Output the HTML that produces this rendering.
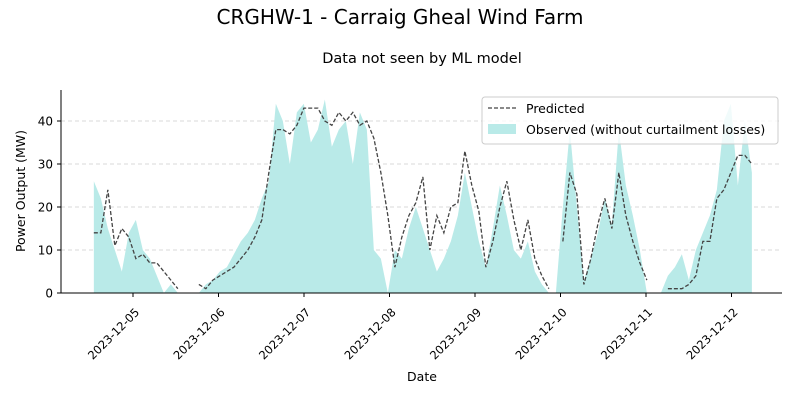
<!DOCTYPE html>
<html><head><meta charset="utf-8"><style>
body{margin:0;background:#fff;}
svg text{font-family:"DejaVu Sans","Liberation Sans",sans-serif;fill:#000;}
</style></head><body>
<svg width="800" height="400" xmlns="http://www.w3.org/2000/svg">
<text x="400" y="24" font-size="20" text-anchor="middle">CRGHW-1 - Carraig Gheal Wind Farm</text>
<text x="422" y="63" font-size="14.5" text-anchor="middle">Data not seen by ML model</text>
<g id="grid"></g>
<g id="obs"></g>
<g id="pred"></g>
<g id="axes"></g>
<text x="0" y="0" font-size="12.5" text-anchor="middle" transform="translate(25,191) rotate(-90)">Power Output (MW)</text>
<text x="422" y="381" font-size="12.5" text-anchor="middle">Date</text>
<g>
<rect x="482" y="97" width="296" height="47" rx="3" fill="#fff" fill-opacity="0.8" stroke="#ccc"/>
<line x1="488" y1="108" x2="516" y2="108" stroke="#444" stroke-width="1.3" stroke-dasharray="4,2"/>
<text x="526" y="113" font-size="12.5">Predicted</text>
<rect x="488" y="124" width="28" height="10" fill="#b9eae8"/>
<text x="526" y="134" font-size="12.5">Observed (without curtailment losses)</text>
</g>
</svg>
<script>
const dateLabels=["2023-12-05","2023-12-06","2023-12-07","2023-12-08","2023-12-09","2023-12-10","2023-12-11","2023-12-12"];
const yTicks=[0,10,20,30,40];
const startDay=-0.458; // days relative to 2023-12-05 00:00
const stepHours=1.965;
const observed=[26,22,15,10,5,14,17,10,8,4,0,2,0,0,0,0,2,3,5,6,9,12,14,17,22,26,44,40,30,42,44,35,38,45,34,38,40,30,42,38,10,8,0,10,8,15,20,15,10,5,8,12,18,28,20,12,6,15,25,18,10,8,12,5,2,0,0,20,38,20,3,8,14,22,16,38,25,18,10,0,0,0,4,6,9,3,10,14,18,24,40,44,25,40,28];
const predicted=[14,14,24,11,15,13,8,9,7,7,5,3,1,null,null,2,1,3,4,5,6,8,10,13,17,28,38,38,37,39,43,43,43,40,39,42,40,42,39,40,36,28,18,6,13,18,21,27,10,18,14,20,21,33,25,19,6,12,20,26,17,10,17,8,4,1,null,12,28,23,2,8,16,22,15,28,18,12,7,3,null,null,1,1,1,2,4,12,12,22,24,28,32,32,30];
const NS="http://www.w3.org/2000/svg";
const X0=133,PXD=85.5,Y0=293,PXV=4.3,L=61,R=782,T=90;
const xs=d=>X0+d*PXD, ys=v=>Y0-v*PXV;
const tx=i=>xs(startDay+i*stepHours/24);
function mk(t,a,p){const e=document.createElementNS(NS,t);for(const k in a)e.setAttribute(k,a[k]);p.appendChild(e);return e;}
const grid=document.getElementById('grid'),axes=document.getElementById('axes');
yTicks.forEach((v,i)=>{
 if(v>0){const g=mk('line',{x1:L,x2:R,y1:ys(v),y2:ys(v),stroke:'#ccc','stroke-dasharray':'4,3','stroke-width':0.8},grid);
 
 }
 const tk=mk('line',{x1:L-4,x2:L,y1:ys(v),y2:ys(v),stroke:'#000'},axes);
 
 
 const t=mk('text',{x:L-8,y:ys(v)+4.5,'font-size':12,'text-anchor':'end'},axes);t.textContent=v;
 
 
});
dateLabels.forEach((s,i)=>{
 const x=xs(i);
 const tk=mk('line',{x1:x,x2:x,y1:Y0,y2:Y0+4,stroke:'#000'},axes);
 
 
 const t=mk('text',{x:0,y:0,'font-size':11.5,'text-anchor':'end',transform:`translate(${x+7},${Y0+20}) rotate(-45)`},axes);t.textContent=s;
 
 
});
const ax1=mk('line',{x1:L,x2:L,y1:T,y2:Y0,stroke:'#000'},axes);


const ax2=mk('line',{x1:L,x2:R,y1:Y0,y2:Y0,stroke:'#000'},axes);


let d=`M${tx(0)},${Y0}`;observed.forEach((v,i)=>d+=`L${tx(i)},${ys(v)}`);d+=`L${tx(observed.length-1)},${Y0}Z`;
const a=mk('path',{d:d,fill:'#b9eae8'},document.getElementById('obs'));


let pd='',pen=false;predicted.forEach((v,i)=>{if(v==null){pen=false;return;}pd+=(pen?'L':'M')+tx(i)+','+ys(v);pen=true;});
const p=mk('path',{d:pd,fill:'none',stroke:'#444','stroke-width':1.3,'stroke-dasharray':'4,2'},document.getElementById('pred'));


</script>
</body></html>
